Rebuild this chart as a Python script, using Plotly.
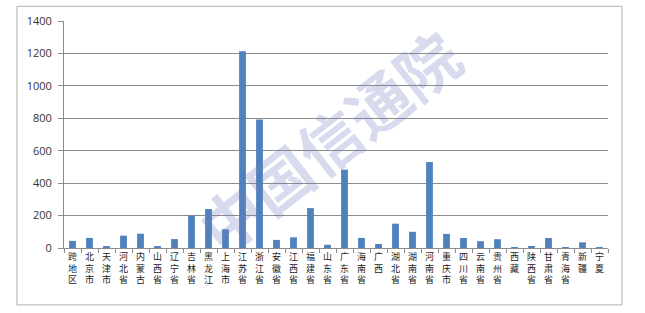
import plotly.graph_objects as go

categories = ["跨地区", "北京市", "天津市", "河北省", "内蒙古", "山西省", "辽宁省", "吉林省",
              "黑龙江", "上海市", "江苏省", "浙江省", "安徽省", "江西省", "福建省", "山东省",
              "广东省", "海南省", "广西", "湖北省", "湖南省", "河南省", "重庆市", "四川省",
              "云南省", "贵州省", "西藏", "陕西省", "甘肃省", "青海省", "新疆", "宁夏"]
values = [44, 62, 12, 76, 88, 12, 55, 200,
          240, 115, 1213, 793, 50, 66, 246, 20,
          483, 62, 25, 150, 100, 530, 87, 62,
          42, 54, 6, 10, 62, 2, 35, 1]
y_ticks = [0, 200, 400, 600, 800, 1000, 1200, 1400]

ticktext = ["<br>".join(list(c)) for c in categories]

fig = go.Figure()
fig.add_trace(go.Bar(
    x=categories, y=values,
    marker=dict(color="#4F81BD", line=dict(width=0)),
    width=0.4,
))

fig.update_layout(
    width=645, height=313,
    margin=dict(l=64, r=37, t=21, b=65),
    paper_bgcolor="white", plot_bgcolor="white",
    showlegend=False,
    bargap=0.6,
    font=dict(family="Noto Sans CJK SC, Open Sans", color="#333333"),
)
fig.update_xaxes(
    type="category",
    tickmode="array", tickvals=categories, ticktext=ticktext,
    tickangle=0,
    tickfont=dict(family="Noto Sans CJK SC", size=9, color="#222222"),
    showline=True, linecolor="#8c8c8c", linewidth=1,
    ticks="outside", ticklen=4, tickcolor="#8c8c8c", tickson="boundaries",
    showgrid=False, range=[-0.5, len(categories) - 0.5],
)
fig.update_yaxes(
    range=[0, 1400], tickvals=y_ticks,
    tickfont=dict(family="Open Sans", size=11, color="#333333"),
    showline=True, linecolor="#8c8c8c", linewidth=1,
    ticks="outside", ticklen=5, tickcolor="#8c8c8c",
    showgrid=True, gridcolor="#8c8c8c", gridwidth=1,
    zeroline=False, ticklabelstandoff=4,
)

# outer chart frame
fig.add_shape(type="rect", xref="paper", yref="paper",
              x0=-0.0864, x1=1.0257, y0=-0.2508, y1=1.0647,
              line=dict(color="#b0b0b0", width=1), fillcolor="rgba(0,0,0,0)", layer="below")

# watermark
fig.add_annotation(
    text="<b>中国信通院</b>", xref="paper", yref="paper", x=0.485, y=0.475,
    showarrow=False, textangle=-38,
    font=dict(family="Noto Sans CJK SC", size=62, color="rgba(110,125,190,0.28)"),
)

fig.write_html("out.html")
